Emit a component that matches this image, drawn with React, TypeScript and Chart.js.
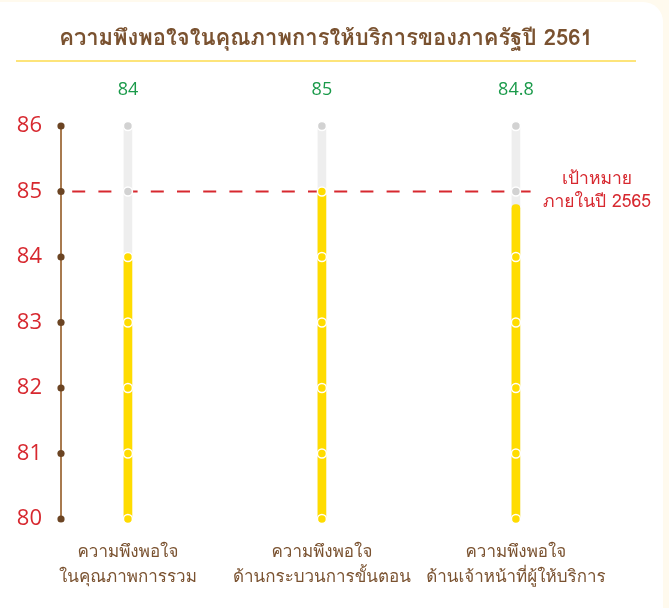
import React, { useEffect, useRef } from "react";
import { Chart, registerables } from "chart.js";

Chart.register(...registerables);

const titleText = "ความพึงพอใจในคุณภาพการให้บริการของภาครัฐปี 2561";
const categories: string[][] = [
  ["ความพึงพอใจ", "ในคุณภาพการรวม"],
  ["ความพึงพอใจ", "ด้านกระบวนการขั้นตอน"],
  ["ความพึงพอใจ", "ด้านเจ้าหน้าที่ผู้ให้บริการ"],
];
const values: number[] = [84, 85, 84.8];
const valueLabels: string[] = ["84", "85", "84.8"];
const yMin = 80;
const yMax = 86;
const yTicks: number[] = [80, 81, 82, 83, 84, 85, 86];
const target = 85;
const targetLabel: string[] = ["เป้าหมาย", "ภายในปี 2565"];

const FONT = "'Loma', 'Garuda', 'Tlwg Typo', 'Waree', 'Tahoma', 'Noto Sans', 'Open Sans', sans-serif";
const NUMFONT = "'Open Sans', 'Noto Sans', sans-serif";
const BROWN = "#7a5230";
const RED = "#d7282f";
const GREEN = "#1a9a4a";
const YELLOW = "#ffdc00";
const GREYBAR = "#eeeeee";
const GREYDOT = "#d2d2d2";
const AXIS = "#a87a4f";
const AXISDOT = "#6b4423";

const decorPlugin = {
  id: "decor",
  beforeDatasetsDraw(chart: any) {
    const { ctx, chartArea, scales } = chart;
    const y = scales.y.getPixelForValue(target);
    ctx.save();
    ctx.strokeStyle = RED;
    ctx.lineWidth = 2;
    ctx.setLineDash([13, 13.2]);
    ctx.lineDashOffset = 15;
    ctx.beginPath();
    ctx.moveTo(chartArea.left, y);
    ctx.lineTo(chartArea.right - 8, y);
    ctx.stroke();
    ctx.restore();
  },
  afterDatasetsDraw(chart: any) {
    const { ctx, chartArea, scales } = chart;
    const xs = scales.x;
    const ys = scales.y;
    ctx.save();
    values.forEach((v, i) => {
      const x = xs.getPixelForValue(i);
      yTicks.forEach((t) => {
        const y = ys.getPixelForValue(t);
        ctx.beginPath();
        ctx.arc(x, y, 4.5, 0, Math.PI * 2);
        ctx.fillStyle = t <= v ? YELLOW : GREYDOT;
        ctx.fill();
        ctx.lineWidth = 1.5;
        ctx.strokeStyle = "#ffffff";
        ctx.stroke();
      });
    });
    yTicks.forEach((t) => {
      const y = ys.getPixelForValue(t);
      ctx.beginPath();
      ctx.arc(chartArea.left, y, 3.6, 0, Math.PI * 2);
      ctx.fillStyle = AXISDOT;
      ctx.fill();
    });
    ctx.fillStyle = GREEN;
    ctx.font = `18px ${NUMFONT}`;
    ctx.textAlign = "center";
    ctx.textBaseline = "middle";
    const topY = ys.getPixelForValue(yMax);
    valueLabels.forEach((lbl, i) => {
      ctx.fillText(lbl, xs.getPixelForValue(i), topY - 36);
    });
    const ty = ys.getPixelForValue(target);
    ctx.fillStyle = RED;
    ctx.font = `17.5px ${FONT}`;
    ctx.fillText(targetLabel[0], chartArea.right + 52, ty - 11);
    ctx.fillText(targetLabel[1], chartArea.right + 52, ty + 12);
    ctx.restore();
  },
};

export default function App() {
  const ref = useRef<HTMLCanvasElement | null>(null);
  useEffect(() => {
    if (!ref.current) return;
    const chart = new Chart(ref.current, {
      type: "bar",
      data: {
        datasets: [
          {
            data: values.map((v, i) => ({ x: i, y: v })),
            backgroundColor: YELLOW,
            barThickness: 8,
            grouped: false,
            borderRadius: { topLeft: 4, topRight: 4, bottomLeft: 0, bottomRight: 0 },
            borderSkipped: false,
          } as any,
          {
            data: values.map((_, i) => ({ x: i, y: yMax })),
            backgroundColor: GREYBAR,
            barThickness: 8,
            grouped: false,
          } as any,
        ],
      },
      options: {
        responsive: false,
        animation: false,
        layout: { padding: { top: 126, right: 124, left: 0, bottom: 0 } },
        plugins: { legend: { display: false }, tooltip: { enabled: false } },
        scales: {
          x: {
            type: "linear",
            offset: false,
            bounds: "ticks",
            min: -0.345,
            max: 2.15,
            grid: { display: false },
            border: { display: false },
            afterBuildTicks: (axis: any) => {
              axis.ticks = categories.map((_, i) => ({ value: i }));
            },
            afterFit: (axis: any) => {
              axis.height = 89;
            },
            ticks: {
              autoSkip: false,
              maxRotation: 0,
              color: BROWN,
              padding: 13,
              font: { family: FONT, size: 17, lineHeight: 1.5 },
              callback: (value: any) => categories[Math.round(Number(value))] ?? "",
            },
          },
          y: {
            min: yMin,
            max: yMax,
            grid: { display: false, drawTicks: false },
            border: { display: true, color: AXIS, width: 2 },
            afterBuildTicks: (axis: any) => {
              axis.ticks = yTicks.map((v) => ({ value: v }));
            },
            afterFit: (axis: any) => {
              axis.width = 61;
            },
            ticks: {
              color: RED,
              padding: 19,
              font: { family: NUMFONT, size: 22 },
            },
          },
        },
      },
      plugins: [decorPlugin],
    });
    return () => chart.destroy();
  }, []);

  return (
    <div style={{ position: "fixed", left: 0, top: 0, width: 669, height: 608, background: "#fffaee", overflow: "hidden" }}>
      <div style={{ position: "absolute", left: 0, top: 2, width: 663, height: 606, background: "#ffffff", borderTopRightRadius: 20 }} />
      <canvas ref={ref} width={669} height={608} style={{ position: "absolute", left: 0, top: 0, width: 669, height: 608 }} />
      <div style={{ position: "absolute", left: 16, top: 22, width: 620, textAlign: "center", fontFamily: FONT, fontSize: 22, fontWeight: 600, color: BROWN, lineHeight: "32px", whiteSpace: "nowrap" }}>
        {titleText}
      </div>
      <div style={{ position: "absolute", left: 16, top: 60, width: 620, height: 2, background: "#fde47a" }} />
    </div>
  );
}
